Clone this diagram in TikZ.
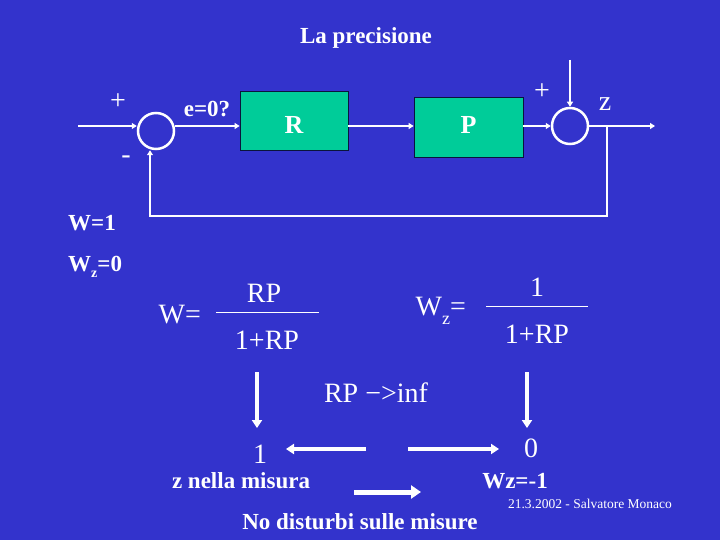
\documentclass[tikz,border=0pt]{standalone}
\usepackage{fontspec}
\setmainfont{Liberation Serif}
\usetikzlibrary{arrows.meta}
\definecolor{bgblue}{RGB}{51,51,204}
\definecolor{blkgreen}{RGB}{0,204,153}
\definecolor{blkedge}{RGB}{10,20,60}
\begin{document}
\begin{tikzpicture}[x=1pt,y=-1pt,
  wire/.style={white, line width=2.5pt, -{Triangle[length=5pt,width=6pt]}},
  bigarrow/.style={white, line width=4pt, -{Triangle[length=8pt,width=10pt]}},
  fatarrow/.style={white, line width=5pt, -{Triangle[length=10pt,width=13pt]}},
  sumnode/.style={circle, draw=white, line width=2.5pt, minimum size=36pt, inner sep=0pt},
  blockbox/.style={rectangle, fill=blkgreen, draw=blkedge, line width=0.8pt, text=white,
    font=\bfseries\fontsize{26}{26}\selectfont, inner sep=0pt, text depth=0pt},
  bold/.style={text=white, font=\bfseries\fontsize{23}{23}\selectfont, inner sep=0pt},
  reg/.style={text=white, font=\fontsize{28}{28}\selectfont, inner sep=0pt},
  small/.style={text=white, font=\fontsize{13.5}{13.5}\selectfont, inner sep=0pt},
  fracline/.style={white, line width=1pt}
]
\fill[bgblue] (0,0) rectangle (720,540);
\useasboundingbox (0,0) rectangle (720,540);

% title
\node[bold] (title) at (366,38) {La precisione};

% block diagram
\coordinate (in) at (78,126);
\node[sumnode] (s1) at (156,131) {};
\node[blockbox, minimum width=108pt, minimum height=59pt, text height=26pt] (R) at (294,120.5) {R};
\node[blockbox, minimum width=109pt, minimum height=60pt, text height=13pt] (P) at (468.5,127) {P};
\node[sumnode] (s2) at (570,126) {};
\coordinate (dtop) at (570,60);
\coordinate (out) at (655,126);
\coordinate (br) at (607,126);
\coordinate (fbr) at (607,216);
\coordinate (fbl) at (150,216);

\draw[wire] (in) -- (in -| s1.west);
\draw[wire] (s1.east |- in) -- (in -| R.west);
\draw[wire] (R.east |- in) -- (in -| P.west);
\draw[wire] (P.east |- in) -- (s2.west);
\draw[wire] (dtop) -- (s2.north);
\draw[wire] (s2.east) -- (out);
\draw[wire] (br) -- (fbr) -- (fbl) -- (fbl |- s1.south);

\node[reg] (plus1) at (118,102) {+};
\node[reg] (minus1) at (126,160) {-};
\node[bold] (err) at (207,109) {e=0?};
\node[reg] (plus2) at (542,92) {+};
\node[reg] (zlab) at (605,104) {z};

% left labels
\node[bold, anchor=west] (w1) at (68,223) {W=1};
\node[bold, anchor=west] (wz0) at (68,267) {W\raisebox{-6pt}{\fontsize{14}{14}\selectfont z}=0};

% transfer functions
\node[reg, anchor=east] (weq) at (201,315) {W=};
\node[reg] (num1) at (264,293) {RP};
\coordinate (f1a) at (216,312);
\coordinate (f1b) at (319,312);
\draw[fracline] (f1a) -- (f1b);
\node[reg] (den1) at (267,340) {1+RP};

\node[reg, anchor=east] (wzeq) at (466,311) {W\raisebox{-9pt}{\fontsize{18}{18}\selectfont z}=};
\node[reg] (num2) at (537,287) {1};
\coordinate (f2a) at (486,306);
\coordinate (f2b) at (588,306);
\draw[fracline] (f2a) -- (f2b);
\node[reg] (den2) at (537,334) {1+RP};

% limits
\coordinate (d1a) at (257,372);
\coordinate (d1b) at (257,428);
\coordinate (d2a) at (527,372);
\coordinate (d2b) at (527,428);
\draw[bigarrow] (d1a) -- (d1b);
\draw[bigarrow] (d2a) -- (d2b);
\node[reg] (lim) at (376,393) {RP −>inf};

\node[reg] (one) at (260,454) {1};
\node[reg] (zero) at (531,448) {0};
\coordinate (la) at (366,449);
\coordinate (lb) at (286,449);
\coordinate (ra) at (408,449);
\coordinate (rb) at (499,449);
\draw[bigarrow] (la) -- (lb);
\draw[bigarrow] (ra) -- (rb);

\node[bold] (zmis) at (241,481) {z nella misura};
\node[bold] (wzm1) at (515,481) {Wz=-1};
\coordinate (ma) at (354,492);
\coordinate (mb) at (421,492);
\draw[fatarrow] (ma) -- (mb);
\node[bold] (nodist) at (360,522) {No disturbi sulle misure};
\node[small] (date) at (590,504) {21.3.2002 - Salvatore Monaco};
\end{tikzpicture}
\end{document}
